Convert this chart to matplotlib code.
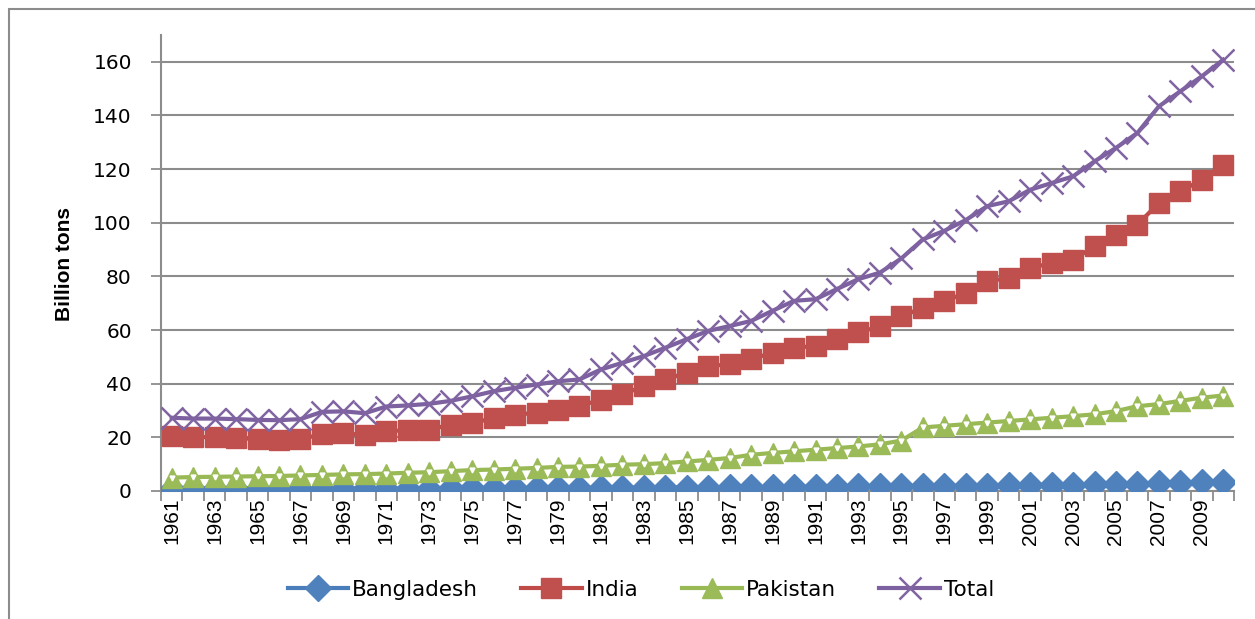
import matplotlib.pyplot as plt
from matplotlib.patches import Rectangle
from matplotlib.lines import Line2D

# datos (billion tons)
years = list(range(1961, 2011))
bangladesh = [0.9, 0.9, 0.9, 0.9, 0.9, 0.9, 0.9, 0.9, 0.9, 0.9,
              0.9, 0.9, 0.9, 1.0, 1.0, 1.0, 1.0, 1.1, 1.1, 1.1,
              1.2, 1.2, 1.2, 1.3, 1.3, 1.3, 1.4, 1.4, 1.5, 1.5,
              1.6, 1.6, 1.7, 1.7, 1.8, 1.8, 1.9, 1.9, 2.0, 2.1,
              2.2, 2.3, 2.4, 2.5, 2.6, 2.7, 2.9, 3.0, 3.2, 3.4]
india = [20.4, 20.1, 20.1, 19.8, 19.3, 19.0, 19.2, 21.3, 21.6, 20.8,
         22.4, 22.6, 22.9, 24.7, 25.3, 27.2, 28.5, 29.1, 30.3, 31.6,
         34.1, 36.0, 39.1, 41.6, 44.1, 46.6, 47.2, 49.1, 51.6, 53.4,
         54.1, 56.6, 59.1, 61.4, 65.1, 68.3, 70.8, 73.8, 78.2, 79.4,
         83.1, 85.0, 86.2, 91.2, 95.5, 99.3, 107.4, 111.7, 116.0, 121.6]
pakistan = [5.0, 5.2, 5.3, 5.4, 5.5, 5.6, 5.8, 6.0, 6.2, 6.3,
            6.5, 6.8, 7.0, 7.4, 7.8, 8.0, 8.3, 8.6, 9.0, 9.1,
            9.4, 9.8, 10.0, 10.4, 11.0, 11.6, 12.3, 13.5, 14.2, 14.8,
            15.4, 16.0, 16.6, 17.4, 18.8, 23.7, 24.3, 24.9, 25.5, 26.1,
            26.7, 27.3, 27.9, 28.6, 29.8, 31.6, 32.4, 33.6, 34.8, 35.6]
total = [27.3, 27.0, 27.0, 26.8, 26.5, 26.4, 26.8, 29.5, 29.7, 29.0,
         31.5, 31.9, 32.5, 33.6, 35.3, 37.2, 38.5, 39.7, 40.9, 41.6,
         45.3, 47.8, 50.3, 53.4, 56.6, 59.7, 61.5, 63.4, 67.2, 70.9,
         71.5, 75.3, 79.0, 81.4, 86.7, 93.8, 97.0, 101.0, 106.2, 108.0,
         112.3, 114.8, 117.3, 122.9, 127.9, 133.5, 143.4, 149.0, 154.6, 160.8]
yticks = [0, 20, 40, 60, 80, 100, 120, 140, 160]

W, H = 1255, 619
fig = plt.figure(figsize=(W / 100, H / 100), dpi=100)
ax = fig.add_axes([161 / W, 1 - 491 / H, 1073 / W, 456 / H])

x = list(range(len(years)))
grid_c = '#8c8c8c'

ax.plot(x, bangladesh, color='#4A7EBB', lw=3, marker='D', ms=13,
        mfc='#4F81BD', mec='#4F81BD', label='Bangladesh', zorder=3)
ax.plot(x, india, color='#BE4B48', lw=3, marker='s', ms=15,
        mfc='#C0504D', mec='#C0504D', label='India', zorder=4)
ax.plot(x, pakistan, color='#98B954', lw=3, marker='^', ms=15,
        mfc='#9BBB59', mec='#9BBB59', label='Pakistan', zorder=5)
ax.plot(x, pakistan, ls='none', marker='v', ms=3.5, mfc='white', mec='white', zorder=5.5)
ax.plot(x, total, color='#7D60A0', lw=3, marker='x', ms=16, mew=1.8,
        mec='#8064A2', label='Total', zorder=6)

ax.set_xlim(-0.5, len(years) - 0.5)
ax.set_ylim(0, 170)
ax.set_yticks(yticks)
ax.yaxis.grid(True, color=grid_c, lw=1.5)
ax.set_axisbelow(True)

# ticks entre categorias, etiquetas cada dos años
ax.set_xticks([i - 0.5 for i in range(len(years) + 1)])
ax.set_xticklabels([])
ax.set_xticks(x[::2], minor=True)
ax.set_xticklabels([str(y) for y in years[::2]], minor=True, rotation=90)
ax.tick_params(axis='x', which='major', length=7, width=1.3, color=grid_c)
ax.tick_params(axis='x', which='minor', length=0, pad=5, labelsize=15,
               labelfontfamily='Liberation Sans')
ax.tick_params(axis='y', length=7, width=1.3, color=grid_c, labelsize=14.5, pad=14)

for s in ['top', 'right']:
    ax.spines[s].set_visible(False)
for s in ['left', 'bottom']:
    ax.spines[s].set_color(grid_c)
    ax.spines[s].set_linewidth(1.5)

fig.text(65 / W, 1 - 264 / H, 'Billion tons', rotation=90, ha='center', va='center',
         fontsize=15, fontweight='bold', family=['Liberation Sans Narrow', 'Liberation Sans'])

handles = [
    Line2D([], [], color='#4A7EBB', lw=3, marker='D', ms=13, mfc='#4F81BD', mec='#4F81BD'),
    Line2D([], [], color='#BE4B48', lw=3, marker='s', ms=15, mfc='#C0504D', mec='#C0504D'),
    Line2D([], [], color='#98B954', lw=3, marker='^', ms=15, mfc='#9BBB59', mec='#9BBB59'),
    Line2D([], [], color='#7D60A0', lw=3, marker='x', ms=16, mew=1.8, mec='#8064A2'),
]
fig.legend(handles, ['Bangladesh', 'India', 'Pakistan', 'Total'], loc='center',
           bbox_to_anchor=(641 / W, 1 - 590 / H), ncol=4, frameon=False,
           fontsize=15.5, handlelength=2.8, handletextpad=0.2, columnspacing=2.0)

fig.patches.append(Rectangle((9 / W, -0.05), 1.0, 1 - 9 / H + 0.05, transform=fig.transFigure,
                             fill=False, edgecolor=grid_c, lw=1.5))

plt.savefig('out.png', dpi=100)
